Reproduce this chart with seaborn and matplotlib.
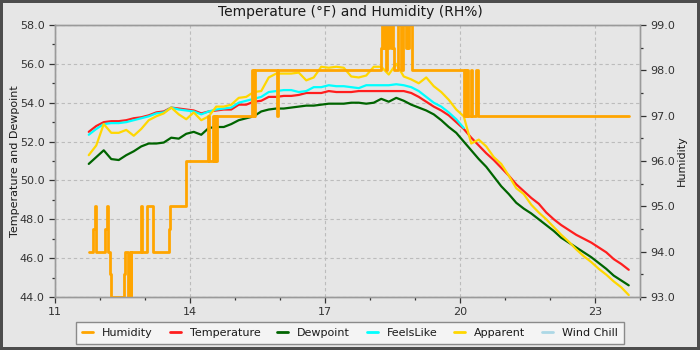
import numpy as np
import pandas as pd
import matplotlib
matplotlib.use("Agg")
import matplotlib.pyplot as plt
from matplotlib.lines import Line2D
from matplotlib.ticker import MultipleLocator, FormatStrFormatter
import seaborn as sns

# Readings every 10 minutes, 11:45 to 23:45 (hour of day)
hours = 11.75 + np.arange(73) / 6.0

temperature = [
    52.5, 52.8, 53.0, 53.05, 53.05, 53.1, 53.2, 53.25, 53.35, 53.5,
    53.55, 53.75, 53.7, 53.65, 53.6, 53.45, 53.55, 53.6, 53.65, 53.65,
    53.9, 53.9, 54.05, 54.1, 54.3, 54.3, 54.35, 54.35, 54.4, 54.5,
    54.5, 54.5, 54.6, 54.55, 54.55, 54.55, 54.6, 54.6, 54.6, 54.6,
    54.6, 54.6, 54.6, 54.5, 54.3, 54.05, 53.8, 53.6, 53.35, 53.0,
    52.65, 52.2, 51.8, 51.4, 51.05, 50.65, 50.25, 49.8, 49.45, 49.1,
    48.8, 48.35, 48.0, 47.7, 47.45, 47.2, 47.0, 46.8, 46.55, 46.3,
    45.95, 45.7, 45.4,
]

dewpoint = [
    50.85, 51.2, 51.55, 51.1, 51.05, 51.3, 51.5, 51.75, 51.9, 51.9,
    51.95, 52.2, 52.15, 52.4, 52.5, 52.35, 52.7, 52.75, 52.75, 52.9,
    53.1, 53.2, 53.3, 53.55, 53.65, 53.7, 53.7, 53.75, 53.8, 53.85,
    53.85, 53.9, 53.95, 53.95, 53.95, 54.0, 54.0, 53.95, 54.0, 54.2,
    54.05, 54.25, 54.1, 53.9, 53.75, 53.6, 53.4, 53.1, 52.75, 52.45,
    52.0, 51.55, 51.1, 50.7, 50.2, 49.7, 49.3, 48.85, 48.55, 48.3,
    48.0, 47.7, 47.4, 47.05, 46.8, 46.55, 46.3, 46.05, 45.75, 45.45,
    45.1, 44.85, 44.6,
]

feels_like = [
    52.35, 52.65, 52.9, 52.95, 52.95, 53.0, 53.1, 53.2, 53.3, 53.45,
    53.5, 53.75, 53.65, 53.6, 53.55, 53.4, 53.55, 53.65, 53.7, 53.75,
    54.0, 54.1, 54.2, 54.3, 54.55, 54.6, 54.65, 54.65, 54.55, 54.6,
    54.8, 54.8, 54.9, 54.85, 54.85, 54.8, 54.75, 54.9, 54.9, 54.9,
    54.9, 54.95, 54.9, 54.8, 54.6, 54.3, 54.0, 53.8, 53.5, 53.15,
    52.7, np.nan, np.nan, np.nan, np.nan, np.nan, np.nan, np.nan, np.nan, np.nan,
    np.nan, np.nan, np.nan, np.nan, np.nan, np.nan, np.nan, np.nan, np.nan, np.nan,
    np.nan, np.nan, np.nan,
]

apparent = [
    51.3, 51.8, 52.9, 52.45, 52.45, 52.6, 52.3, 52.65, 53.1, 53.3,
    53.45, 53.75, 53.4, 53.15, 53.5, 53.1, 53.3, 53.8, 53.8, 53.9,
    54.25, 54.3, 54.55, 54.6, 55.3, 55.5, 55.5, 55.5, 55.55, 55.15,
    55.3, 55.85, 55.8, 55.85, 55.8, 55.35, 55.3, 55.4, 55.85, 55.85,
    55.45, 56.0, 55.35, 55.2, 55.0, 55.3, 54.85, 54.55, 54.15, 53.65,
    53.3, 51.9, 52.1, 51.75, 51.2, 50.85, 50.25, 49.6, 49.3, 48.75,
    48.35, 48.0, 47.6, 47.2, 46.85, 46.45, 46.1, 45.8, 45.45, 45.15,
    44.8, 44.5, 44.1,
]

wind_chill = [np.nan] * 73

# Relative humidity, recorded only when it changes
hum_hours = [
    11.762, 11.851, 11.878, 11.900, 11.922, 12.118, 12.149, 12.184, 12.222, 12.244,
    12.533, 12.556, 12.629, 12.656, 12.678, 12.700, 12.904, 12.940, 13.037, 13.170,
    13.540, 13.556, 13.904, 14.407, 14.433, 14.518, 14.540, 14.562, 14.580, 14.598,
    15.378, 15.396, 15.413, 15.431, 15.449, 15.926, 15.956, 18.244, 18.267, 18.300,
    18.322, 18.356, 18.367, 18.400, 18.433, 18.456, 18.478, 18.511, 18.544, 18.629,
    18.682, 18.733, 18.793, 18.814, 18.844, 18.856, 18.927, 20.096, 20.118, 20.140,
    20.162, 20.188, 20.237, 20.259, 20.363, 20.396, 23.760,
]
humidity = [
    94.0, 94.5, 95.0, 94.5, 94.0, 94.5, 95.0, 94.0, 93.5, 93.0,
    93.5, 94.0, 93.0, 94.0, 93.0, 94.0, 95.0, 94.0, 95.0, 94.0,
    94.5, 95.0, 96.0, 97.0, 96.0, 97.0, 96.0, 97.0, 96.0, 97.0,
    98.0, 97.0, 98.0, 97.0, 98.0, 97.0, 98.0, 98.5, 99.0, 98.5,
    99.0, 98.0, 99.0, 98.5, 99.0, 98.5, 99.0, 98.5, 98.0, 99.0,
    98.0, 99.0, 98.5, 99.0, 98.5, 99.0, 98.0, 97.0, 98.0, 97.0,
    98.0, 97.0, 98.0, 97.0, 98.0, 97.0, 97.0,
]

series_names = ["Humidity", "Temperature", "Dewpoint", "FeelsLike", "Apparent", "Wind Chill"]
series_colors = ["#FFA500", "#FF1E1E", "#006400", "#00FFFF", "#FFD700", "#ADD8E6"]
palette = dict(zip(series_names, series_colors))

BG = "#e6e6e6"
sns.set_theme(style="ticks", rc={
    "axes.facecolor": BG,
    "figure.facecolor": BG,
    "axes.edgecolor": "#9a9a9a",
    "axes.linewidth": 1.0,
    "xtick.color": "#333333",
    "ytick.color": "#333333",
    "text.color": "#1a1a1a",
    "axes.labelcolor": "#1a1a1a",
})
plt.rcParams["font.family"] = ["DejaVu Sans"]

fig = plt.figure(figsize=(7, 3.5), dpi=100)
fig.patch.set_facecolor(BG)
fig.patch.set_edgecolor("#4d4d4d")
fig.patch.set_linewidth(4)

ax = fig.add_axes([55 / 700, 53 / 350, 585 / 700, 272 / 350])

temps = pd.DataFrame({
    "hour": hours,
    "Temperature": temperature,
    "Dewpoint": dewpoint,
    "FeelsLike": feels_like,
    "Apparent": apparent,
    "Wind Chill": wind_chill,
})
long = temps.melt(id_vars="hour", var_name="series", value_name="value").dropna()
sns.lineplot(data=long, x="hour", y="value", hue="series",
             hue_order=["Temperature", "Dewpoint", "FeelsLike", "Apparent"],
             palette=palette, estimator=None, sort=False, legend=False,
             linewidth=1.6, ax=ax)

ax.set_xlim(11, 24)
ax.set_ylim(44, 58)
ax.set_xticks([11, 14, 17, 20, 23])
ax.xaxis.set_minor_locator(MultipleLocator(1))
ax.yaxis.set_major_locator(MultipleLocator(2))
ax.yaxis.set_minor_locator(MultipleLocator(1))
ax.yaxis.set_major_formatter(FormatStrFormatter("%.1f"))
ax.grid(which="major", color="#bcbcbc", linestyle=(0, (3, 2.5)), linewidth=0.8)
ax.tick_params(which="major", length=4.5, width=0.9, labelsize=8, direction="out", pad=3)
ax.tick_params(which="minor", length=2.2, width=0.9, direction="out")
ax.set_xlabel("")
ax.set_ylabel("Temperature and Dewpoint", fontsize=8, labelpad=0)
for side in ["top", "right", "left", "bottom"]:
    ax.spines[side].set_visible(True)
    ax.spines[side].set_color("#9a9a9a")

ax2 = ax.twinx()
sns.lineplot(x=hum_hours, y=humidity, color=palette["Humidity"], estimator=None,
             sort=False, drawstyle="steps-post", linewidth=2.0, ax=ax2)
ax2.set_ylim(93, 99)
ax2.yaxis.set_major_locator(MultipleLocator(1))
ax2.yaxis.set_minor_locator(MultipleLocator(0.5))
ax2.yaxis.set_major_formatter(FormatStrFormatter("%.1f"))
ax2.tick_params(which="major", length=4.5, width=0.9, labelsize=8, direction="out", pad=3)
ax2.tick_params(which="minor", length=2.2, width=0.9, direction="out")
ax2.grid(False)
ax2.set_ylabel("Humidity", fontsize=8, labelpad=1)
for side in ["top", "right", "left", "bottom"]:
    ax2.spines[side].set_color("#9a9a9a")

fig.text(0.5, 1 - 12 / 350, "Temperature (\u00b0F) and Humidity (RH%)",
         ha="center", va="center", fontsize=10)

handles = [Line2D([], [], color=c, linewidth=2) for c in series_colors]
fig.legend(handles, series_names, loc="upper center", bbox_to_anchor=(0.5, 1 - 322 / 350),
           ncol=6, fontsize=8, frameon=True, fancybox=False, framealpha=1,
           facecolor="#f4f4f4", edgecolor="#8a8a8a", handlelength=1.0,
           handletextpad=0.8, columnspacing=1.5, borderpad=0.55, borderaxespad=0)

fig.savefig("out.png", dpi=100, facecolor=BG, edgecolor=fig.patch.get_edgecolor())
